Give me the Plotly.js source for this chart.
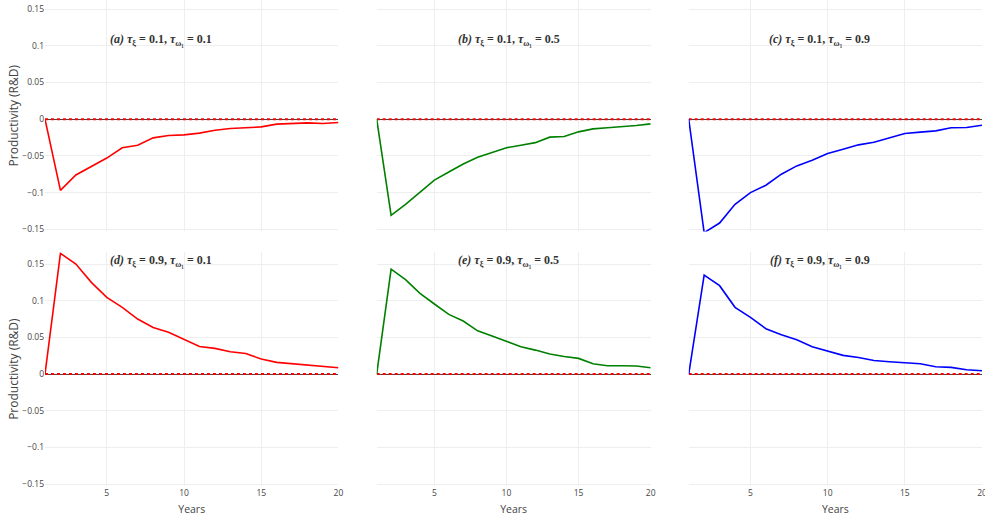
<!DOCTYPE html>
<html>
<head>
<meta charset="utf-8">
<script src="https://cdn.plot.ly/plotly-3.0.1.min.js"></script>
<style>
  html, body { margin: 0; padding: 0; background: #fff; }
  #chart { width: 985px; height: 516px; }
</style>
</head>
<body>
<div id="chart"></div>
<script>
// Years after the shock
const years = [1, 2, 3, 4, 5, 6, 7, 8, 9, 10, 11, 12, 13, 14, 15, 16, 17, 18, 19, 20];

// Productivity response (R&D), tau_xi = 0.1
const respA = [0, -0.097, -0.076, -0.064, -0.053, -0.039, -0.0355, -0.0255, -0.0222, -0.0214,
               -0.019, -0.015, -0.0127, -0.0118, -0.0105, -0.0068, -0.0064, -0.005, -0.006, -0.0045];
const respB = [0, -0.131, -0.116, -0.099, -0.083, -0.072, -0.061, -0.052, -0.046, -0.039,
               -0.0355, -0.032, -0.0245, -0.0236, -0.0173, -0.0132, -0.0118, -0.0105, -0.0086, -0.0064];
const respC = [0, -0.1546, -0.1415, -0.116, -0.100, -0.090, -0.075, -0.0637, -0.056, -0.0468,
               -0.041, -0.035, -0.0314, -0.0255, -0.0195, -0.0177, -0.016, -0.0118, -0.0114, -0.0082];

// Productivity response (R&D), tau_xi = 0.9
const respD = [0, 0.1645, 0.150, 0.125, 0.1045, 0.091, 0.075, 0.0636, 0.057, 0.0477,
               0.0377, 0.035, 0.0305, 0.028, 0.0205, 0.016, 0.014, 0.0127, 0.011, 0.0086];
const respE = [0, 0.143, 0.1286, 0.110, 0.0955, 0.0814, 0.0723, 0.059, 0.0518, 0.0445,
               0.0373, 0.0327, 0.0273, 0.024, 0.0214, 0.014, 0.0114, 0.0114, 0.011, 0.0086];
const respF = [0, 0.135, 0.1205, 0.091, 0.0773, 0.0618, 0.0536, 0.0468, 0.0373, 0.0318,
               0.0255, 0.0227, 0.0186, 0.0168, 0.015, 0.0141, 0.010, 0.0091, 0.0059, 0.0045];

const panelLabels = [
  '<i>(a)</i> <i>τ</i><sub>ξ</sub> = 0.1, <i>τ</i><sub>ω₁</sub> = 0.1',
  '<i>(b)</i> <i>τ</i><sub>ξ</sub> = 0.1, <i>τ</i><sub>ω₁</sub> = 0.5',
  '<i>(c)</i> <i>τ</i><sub>ξ</sub> = 0.1, <i>τ</i><sub>ω₁</sub> = 0.9',
  '<i>(d)</i> <i>τ</i><sub>ξ</sub> = 0.9, <i>τ</i><sub>ω₁</sub> = 0.1',
  '<i>(e)</i> <i>τ</i><sub>ξ</sub> = 0.9, <i>τ</i><sub>ω₁</sub> = 0.5',
  '<i>(f)</i> <i>τ</i><sub>ξ</sub> = 0.9, <i>τ</i><sub>ω₁</sub> = 0.9'
];

const series = [respA, respB, respC, respD, respE, respF];
const colors = ['red', 'green', 'blue', 'red', 'green', 'blue'];

const traces = [];
series.forEach((ys, i) => {
  const n = i === 0 ? '' : String(i + 1);
  // dotted reference line at zero
  traces.push({
    x: [years[0], years[years.length - 1]], y: [0, 0],
    xaxis: 'x' + n, yaxis: 'y' + n,
    mode: 'lines', line: { color: 'red', width: 2, dash: 'dot' },
    hoverinfo: 'skip'
  });
  traces.push({
    x: years, y: ys,
    xaxis: 'x' + n, yaxis: 'y' + n,
    mode: 'lines', line: { color: colors[i], width: 1.6 }
  });
});

const xDomains = [[0, 0.3132], [0.354, 0.6464], [0.687, 1]];
const yDomains = [[0.5237, 1], [0, 0.4809]];
const yRanges = [[-0.153, 0.1623], [-0.1525, 0.166]];

const tickFont = { family: 'Open Sans, sans-serif', size: 8.5, color: '#444' };
const xTitleFont = { family: 'Open Sans, sans-serif', size: 10.5, color: '#444' };
const yTitleFont = { family: 'Open Sans, sans-serif', size: 12, color: '#444' };

const layout = {
  width: 985, height: 516,
  margin: { l: 45, r: 3, t: 0, b: 30 },
  paper_bgcolor: '#fff', plot_bgcolor: '#fff',
  showlegend: false,
  font: { family: 'Open Sans, sans-serif', color: '#444' },
  annotations: []
};

const annX = [0.1238, 0.4947, 0.8271];
const annY = [0.9177, 0.4636];

for (let r = 0; r < 2; r++) {
  for (let c = 0; c < 3; c++) {
    const idx = r * 3 + c;
    const n = idx === 0 ? '' : String(idx + 1);
    layout['xaxis' + n] = {
      domain: xDomains[c], anchor: 'y' + n,
      range: [1, 20], dtick: 5, tick0: 0,
      showgrid: true, gridcolor: '#eee', zeroline: false,
      showticklabels: r === 1, tickfont: tickFont,
      ticklabeloverflow: 'allow',
      title: r === 1 ? { text: 'Years', font: xTitleFont } : { text: '' }
    };
    layout['yaxis' + n] = {
      domain: yDomains[r], anchor: 'x' + n,
      range: yRanges[r], dtick: 0.05, tick0: 0,
      showgrid: true, gridcolor: '#eee',
      zeroline: true, zerolinecolor: '#444', zerolinewidth: 1,
      showticklabels: c === 0, tickfont: tickFont,
      automargin: c === 0,
      title: c === 0 ? { text: 'Productivity (R&D)', font: yTitleFont, standoff: 0 } : { text: '' }
    };
    layout.annotations.push({
      text: panelLabels[idx],
      xref: 'paper', yref: 'paper',
      x: annX[c], y: annY[r], xanchor: 'center', yanchor: 'middle',
      showarrow: false,
      font: { family: 'Liberation Serif, serif', size: 12, color: '#333', weight: 'bold' }
    });
  }
}

Plotly.newPlot('chart', traces, layout, { displayModeBar: false, staticPlot: true });
</script>
</body>
</html>
